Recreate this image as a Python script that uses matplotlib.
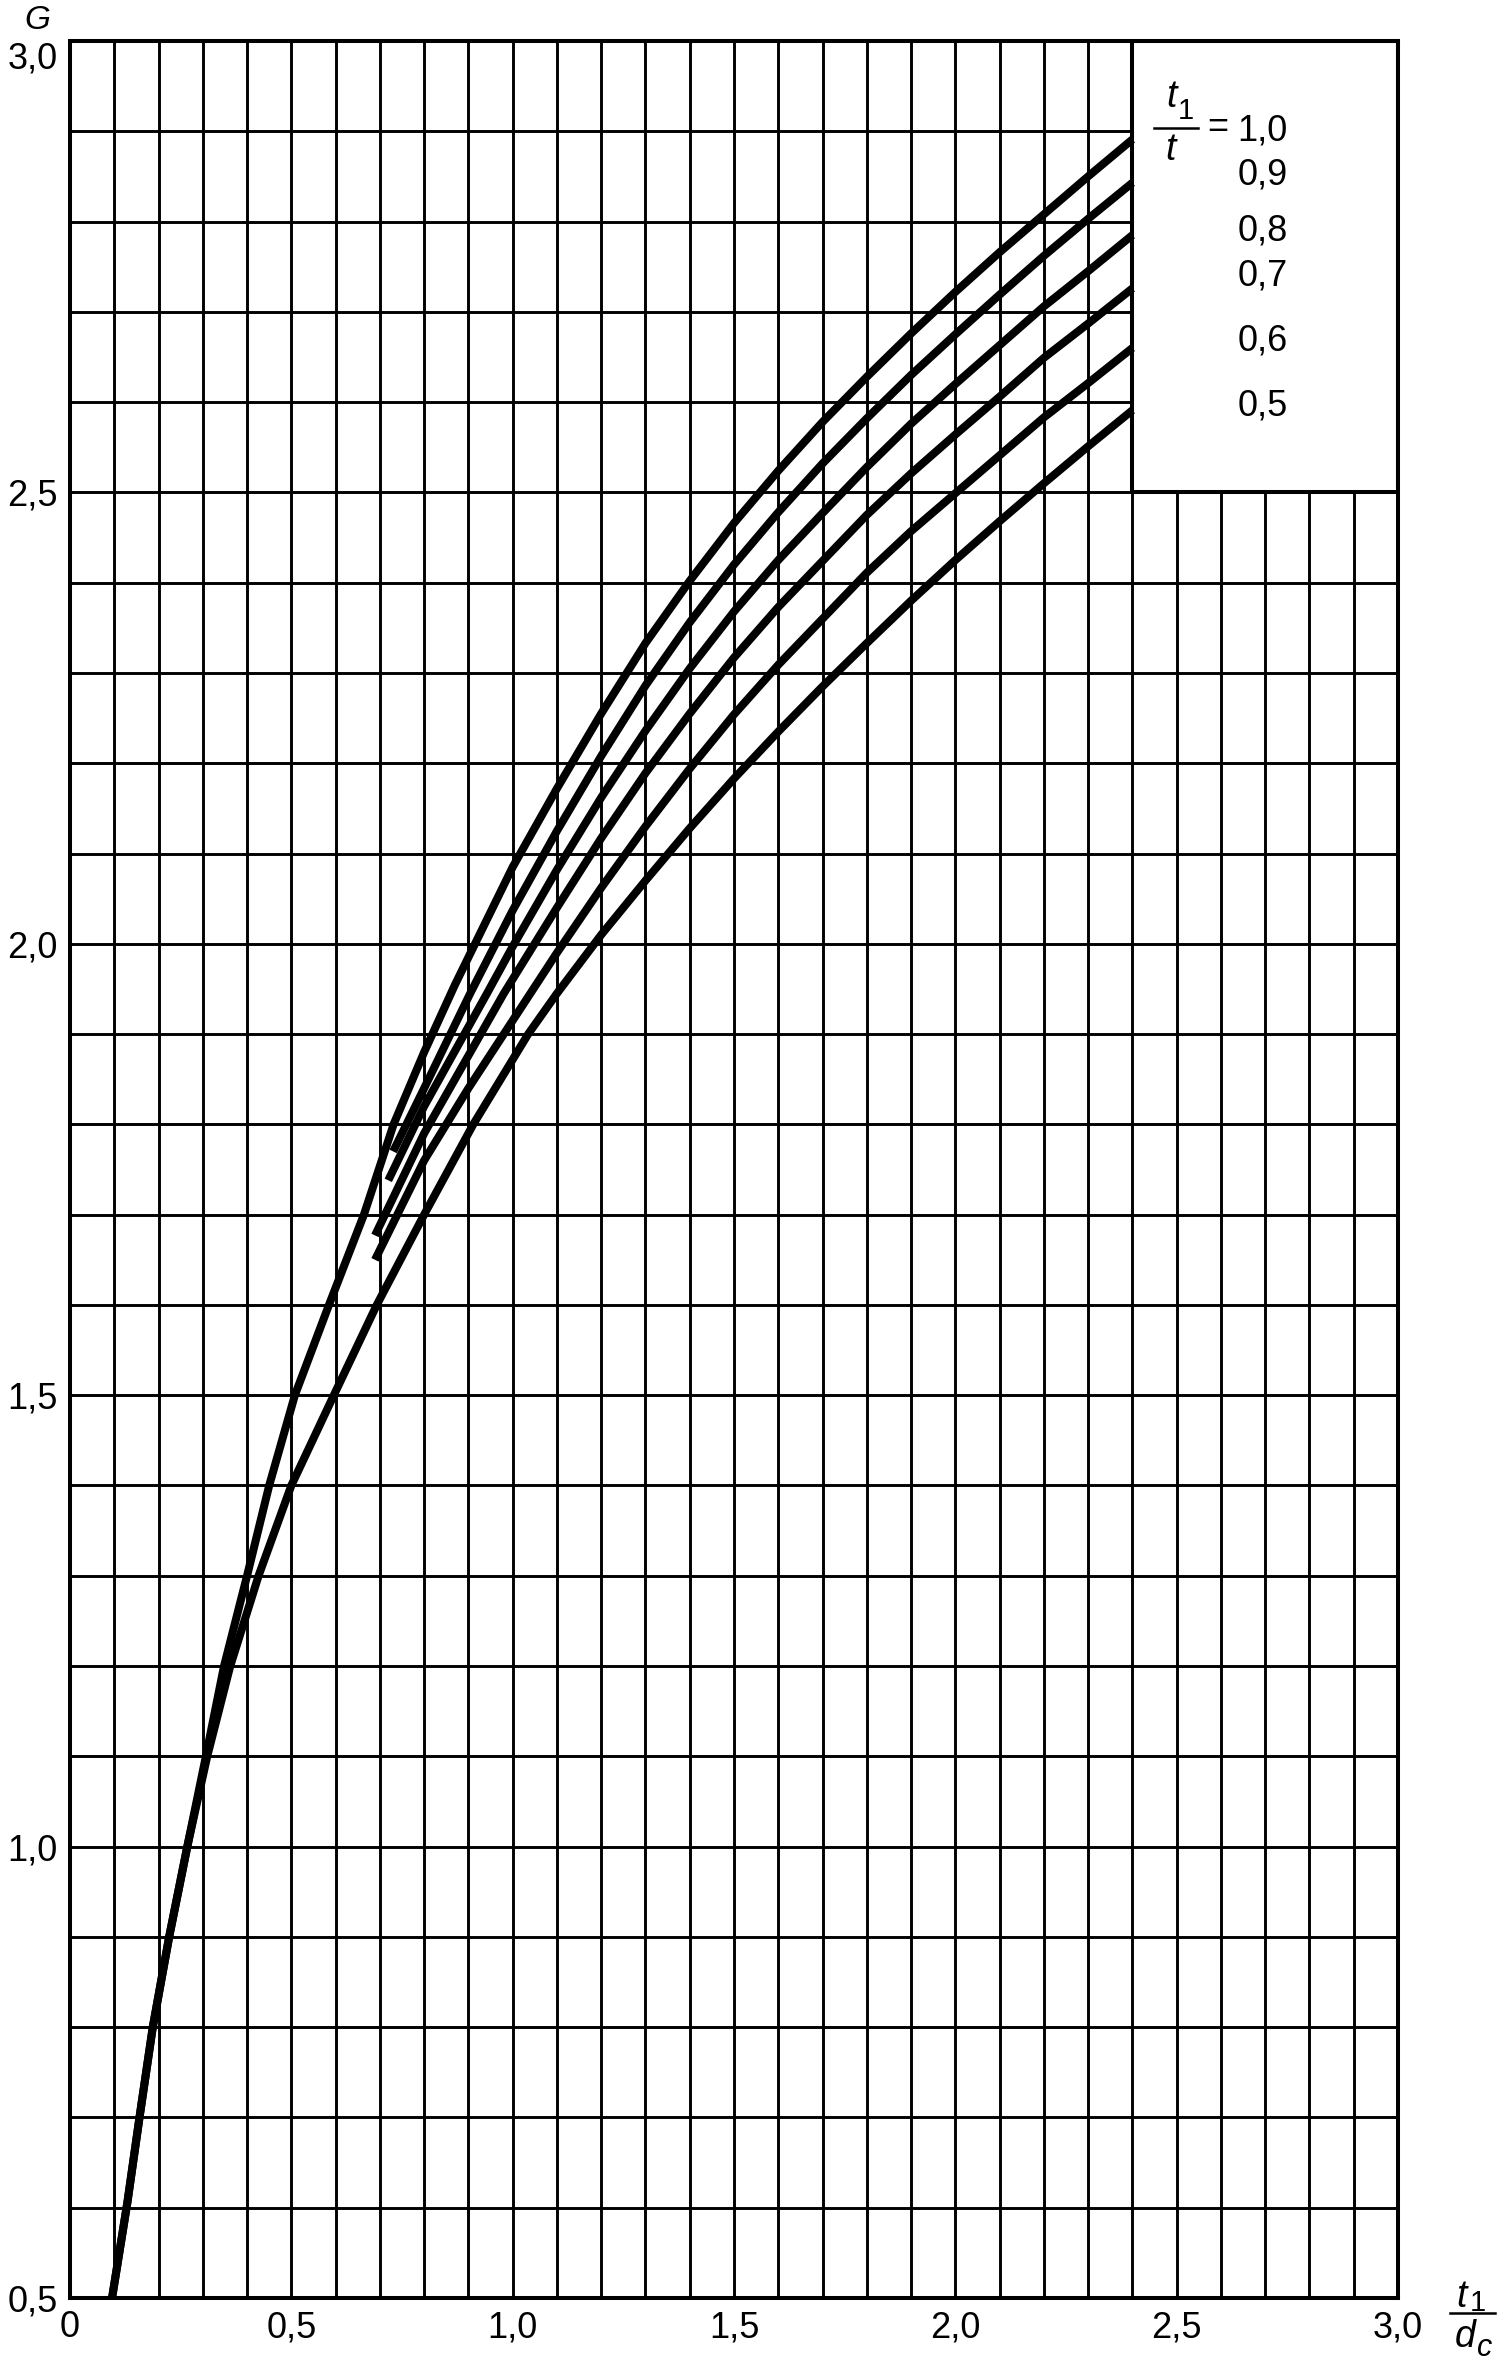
import numpy as np
import matplotlib.pyplot as plt
from matplotlib.patches import Rectangle
from matplotlib.lines import Line2D

plt.rcParams['font.family'] = ['Liberation Sans', 'DejaVu Sans']

# curves G over t1/dc, one per ratio t1/t
x_10 = [0.095, 0.13, 0.157, 0.187, 0.224, 0.265, 0.307, 0.348, 0.40, 0.45, 0.508, 0.585, 0.664,
        0.731, 0.80, 0.87, 0.94, 1.0, 1.1, 1.2, 1.3, 1.4, 1.5, 1.6, 1.7, 1.8, 1.9, 2.0,
        2.1, 2.2, 2.3, 2.4]
g_10 = [0.5, 0.607, 0.7, 0.8, 0.9, 1.0, 1.1, 1.2, 1.3, 1.4, 1.5, 1.6, 1.7,
        1.8, 1.88, 1.955, 2.025, 2.085, 2.172, 2.255, 2.333, 2.402, 2.466, 2.524, 2.578, 2.628, 2.676,
        2.722, 2.766, 2.808, 2.85, 2.891]

x_09 = [0.73, 0.8, 0.904, 1.0, 1.1, 1.2, 1.3, 1.4, 1.5, 1.6, 1.7, 1.8, 1.9, 2.0, 2.1, 2.2, 2.3, 2.4]
g_09 = [1.77, 1.84, 1.945, 2.037, 2.125, 2.208, 2.286, 2.356, 2.42, 2.478, 2.532, 2.582, 2.63, 2.675,
        2.719, 2.762, 2.803, 2.843]

x_08 = [0.719, 0.8, 0.942, 1.0, 1.1, 1.2, 1.3, 1.4, 1.5, 1.6, 1.7, 1.8, 1.9, 2.0, 2.1, 2.2, 2.3, 2.4]
g_08 = [1.738, 1.82, 1.945, 1.997, 2.082, 2.162, 2.236, 2.305, 2.368, 2.425, 2.477, 2.528, 2.576,
        2.62, 2.663, 2.706, 2.745, 2.785]

x_07 = [0.689, 0.8, 0.98, 1.1, 1.2, 1.3, 1.4, 1.5, 1.6, 1.7, 1.8, 1.9, 2.0, 2.1, 2.2, 2.3, 2.4]
g_07 = [1.677, 1.79, 1.945, 2.04, 2.117, 2.189, 2.255, 2.317, 2.373, 2.424, 2.475, 2.521, 2.564,
        2.606, 2.649, 2.687, 2.726]

x_06 = [0.689, 0.8, 0.9, 1.04, 1.1, 1.2, 1.3, 1.4, 1.5, 1.6, 1.7, 1.8, 1.9, 2.0, 2.1, 2.2, 2.3, 2.4]
g_06 = [1.65, 1.76, 1.84, 1.945, 1.99, 2.062, 2.13, 2.194, 2.254, 2.309, 2.36, 2.411, 2.457, 2.499,
        2.541, 2.583, 2.621, 2.66]

x_05 = [0.095, 0.13, 0.157, 0.187, 0.224, 0.265, 0.31, 0.362, 0.426, 0.50, 0.596, 0.693, 0.80,
        0.911, 1.035, 1.1, 1.2, 1.3, 1.4, 1.5, 1.6, 1.7, 1.8, 1.9, 2.0, 2.1, 2.2, 2.3, 2.4]
g_05 = [0.5, 0.607, 0.7, 0.8, 0.9, 1.0, 1.1, 1.2, 1.3, 1.4, 1.5, 1.6, 1.7,
        1.8, 1.9, 1.945, 2.01, 2.07, 2.128, 2.183, 2.235, 2.285, 2.333, 2.38, 2.425, 2.468, 2.51,
        2.551, 2.591]

ratio_labels = ['1,0', '0,9', '0,8', '0,7', '0,6', '0,5']
ratio_label_g = [2.900, 2.852, 2.789, 2.740, 2.668, 2.596]

x_ticks = [0, 0.5, 1.0, 1.5, 2.0, 2.5, 3.0]
x_ticklabels = ['0', '0,5', '1,0', '1,5', '2,0', '2,5', '3,0']
y_ticks = [0.5, 1.0, 1.5, 2.0, 2.5, 3.0]
y_ticklabels = ['0,5', '1,0', '1,5', '2,0', '2,5', '3,0']

fig = plt.figure(figsize=(14.97, 23.62), dpi=100)
ax = fig.add_axes([0.04676, 0.0271, 0.88711, 0.95554])

ax.set_xlim(0, 3.0)
ax.set_ylim(0.5, 3.0)
ax.set_xticks(x_ticks)
ax.set_xticklabels(x_ticklabels)
ax.set_yticks(y_ticks)
ax.set_yticklabels(y_ticklabels)
ax.set_xticks(np.arange(0, 3.001, 0.1), minor=True)
ax.set_yticks(np.arange(0.5, 3.001, 0.1), minor=True)
ax.tick_params(which='both', length=0, labelsize=26, pad=9)
ax.get_yticklabels()[-1].set_verticalalignment('top')
ax.grid(True, which='both', color='black', lw=2.1)
ax.set_axisbelow(True)
for s in ax.spines.values():
    s.set_linewidth(2.9)

# white box with the ratio labels
ax.add_patch(Rectangle((2.4, 2.5), 0.6, 0.5, facecolor='white', edgecolor='black',
                       lw=2.9, zorder=1.5))

for xs, gs in [(x_10, g_10), (x_09, g_09), (x_08, g_08), (x_07, g_07), (x_06, g_06), (x_05, g_05)]:
    ax.plot(xs, gs, color='black', lw=5.8, solid_capstyle='butt', solid_joinstyle='round', zorder=3)

for lab, g in zip(ratio_labels, ratio_label_g):
    ax.text(2.751, g, lab, ha='right', va='center', fontsize=26, zorder=4)
ax.text(2.593, 2.904, '=', ha='center', va='center', fontsize=26, zorder=4)
ax.text(2.489, 2.938, 't', ha='center', va='center', fontsize=27, style='italic', zorder=4)
ax.text(2.521, 2.922, '1', ha='center', va='center', fontsize=21, zorder=4)
ax.plot([2.449, 2.549], [2.904, 2.904], color='black', lw=1.8, zorder=4)
ax.text(2.487, 2.879, 't', ha='center', va='center', fontsize=27, style='italic', zorder=4)

# axis names
fig.text(0.02505, 0.99153, 'G', ha='center', va='center', fontsize=24, style='italic')
fig.text(0.9760, 0.02731, 't', ha='center', va='center', fontsize=27, style='italic')
fig.text(0.9870, 0.02477, '1', ha='center', va='center', fontsize=21)
fig.add_artist(Line2D([0.9686, 0.9987], [0.02075, 0.02075], color='black', lw=1.8))
fig.text(0.9786, 0.01079, 'd', ha='center', va='center', fontsize=27, style='italic')
fig.text(0.9920, 0.00600, 'c', ha='center', va='center', fontsize=22, style='italic')

fig.savefig('out.png', dpi=100)
